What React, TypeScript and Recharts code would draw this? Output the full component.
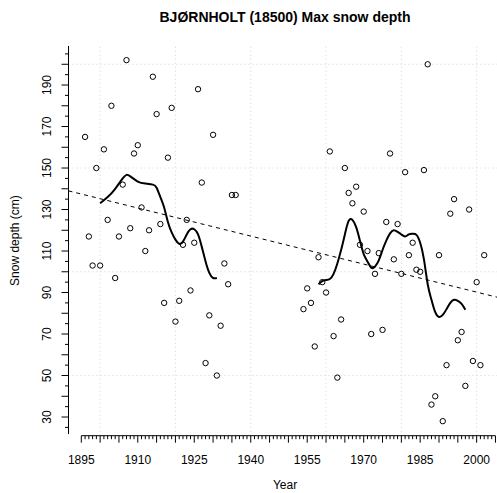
import { ComposedChart, XAxis, YAxis, Scatter, Line, ReferenceLine } from "recharts"

const FONT = '"Liberation Sans", Arial, Helvetica, sans-serif'

// observed yearly max snow depth (cm)
const obsYears = [
  1896, 1897, 1898, 1899, 1900, 1901, 1902, 1903, 1904, 1905, 1906, 1907, 1908, 1909, 1910, 1911,
  1912, 1913, 1914, 1915, 1916, 1917, 1918, 1919, 1920, 1921, 1922, 1923, 1924, 1925, 1926, 1927,
  1928, 1929, 1930, 1931, 1932, 1933, 1934, 1935, 1936,
  1954, 1955, 1956, 1957, 1958, 1959, 1960, 1961, 1962, 1963, 1964, 1965, 1966, 1967, 1968, 1969,
  1970, 1971, 1972, 1973, 1974, 1975, 1976, 1977, 1978, 1979, 1980, 1981, 1982, 1983, 1984, 1985,
  1986, 1987, 1988, 1989, 1990, 1991, 1992, 1993, 1994, 1995, 1996, 1997, 1998, 1999, 2000, 2001,
  2002,
]
const obsDepth = [
  165, 117, 103, 150, 103, 159, 125, 180, 97, 117, 142, 202, 121, 157, 161, 131,
  110, 120, 194, 176, 123, 85, 155, 179, 76, 86, 113, 125, 91, 114, 188, 143,
  56, 79, 166, 50, 74, 104, 94, 137, 137,
  82, 92, 85, 64, 107, 95, 90, 158, 69, 49, 77, 150, 138, 133, 141, 113,
  129, 110, 70, 99, 109, 72, 124, 157, 106, 123, 99, 148, 108, 114, 101, 100,
  149, 200, 36, 40, 108, 28, 55, 128, 135, 67, 71, 45, 130, 57, 95, 55,
  108,
]

// smoothed curve, first period
const smooth1Years = [
  1900, 1902, 1904, 1906, 1907, 1908, 1910, 1912, 1914, 1915, 1916, 1917, 1918,
  1919, 1920, 1921, 1922, 1923, 1924, 1925, 1926, 1927, 1928, 1929, 1930, 1931,
]
const smooth1Depth = [
  133, 136, 140, 145, 146.7, 146, 143.5, 142.5, 142, 140.5, 136, 131, 124,
  119, 115.5, 113.5, 114.5, 118, 120.5, 120.5, 118, 112, 105, 99.5, 97, 97,
]

// smoothed curve, second period
const smooth2Years = [
  1958, 1959, 1960, 1961, 1962, 1963, 1964, 1965, 1966, 1967, 1968, 1969, 1970, 1971,
  1972, 1973, 1974, 1975, 1976, 1977, 1978, 1979, 1980, 1981, 1982, 1983, 1984, 1985,
  1986, 1987, 1988, 1989, 1990, 1991, 1992, 1993, 1994, 1995, 1996, 1997,
]
const smooth2Depth = [
  94, 95.5, 96, 96.5, 99, 104, 110.5, 118, 124.5, 125, 121.5, 115, 108.5, 105,
  102, 102.5, 105.5, 110.5, 115, 118.5, 120, 119.2, 118, 117, 118, 118.3, 117.8, 114,
  106, 94, 86.5, 80.5, 78.2, 79.2, 82, 85, 86.5, 86, 84.5, 81.7,
]

// linear trend, read at the plot edges
const trendYears = [1891.6, 2006.2]
const trendDepth = [139.0, 87.4]

const xLabels = [1895, 1910, 1925, 1940, 1955, 1970, 1985, 2000]
const yLabels = [30, 50, 70, 90, 110, 130, 150, 170, 190]
const xGrid = [1900, 1920, 1940, 1960, 1980, 2000]
const yGrid = [50, 100, 150, 200]

const X_DOMAIN: [number, number] = [1891.6, 2006.2]
const Y_DOMAIN: [number, number] = [21.0, 209.0]

const xTicks: number[] = []
for (let y = 1895; y <= 2005; y++) xTicks.push(y)
const yTicks: number[] = []
for (let v = 25; v <= 205; v += 5) yTicks.push(v)

const toPoints = (xs: number[], ys: number[]) => xs.map((year, i) => ({ year, depth: ys[i] }))

const observed = toPoints(obsYears, obsDepth)
const smooth1 = toPoints(smooth1Years, smooth1Depth)
const smooth2 = toPoints(smooth2Years, smooth2Depth)
const trend = toPoints(trendYears, trendDepth)

const XTick = (props: any) => {
  const { x, y, payload } = props
  const v = payload.value
  const major = v % 5 === 0
  return (
    <g>
      <line x1={x} x2={x} y1={y} y2={y + (major ? 7 : 3.5)} stroke="#000" strokeWidth={1} />
      {xLabels.includes(v) && (
        <text x={x} y={y + 28} textAnchor="middle" fontSize={12} fontFamily={FONT} fill="#000">
          {v}
        </text>
      )}
    </g>
  )
}

const YTick = (props: any) => {
  const { x, y, payload } = props
  const v = payload.value
  const major = v % 10 === 0
  return (
    <g>
      <line x1={x} x2={x - (major ? 7 : 3.5)} y1={y} y2={y} stroke="#000" strokeWidth={1} />
      {yLabels.includes(v) && (
        <text
          x={51}
          y={y}
          transform={`rotate(-90, 51, ${y})`}
          textAnchor="middle"
          fontSize={12}
          fontFamily={FONT}
          fill="#000"
        >
          {v}
        </text>
      )}
    </g>
  )
}

const OpenCircle = (props: any) => (
  <circle cx={props.cx} cy={props.cy} r={2.7} fill="none" stroke="#000" strokeWidth={1} />
)

export default function App() {
  return (
    <div
      style={{
        position: "absolute",
        left: 0,
        top: 0,
        width: 497,
        height: 493,
        overflow: "hidden",
        background: "#fff",
      }}
    >
      <ComposedChart
        width={500}
        height={493}
        margin={{ top: 45.6, right: 0, bottom: 0, left: 0 }}
      >
        <XAxis
          type="number"
          dataKey="year"
          domain={X_DOMAIN}
          allowDataOverflow
          ticks={xTicks}
          interval={0}
          height={57.3}
          tickSize={0}
          tickMargin={0}
          axisLine={false}
          tickLine={false}
          tick={<XTick />}
        />
        <YAxis
          type="number"
          domain={Y_DOMAIN}
          allowDataOverflow
          ticks={yTicks}
          interval={0}
          width={68.5}
          tickSize={0}
          tickMargin={0}
          axisLine={false}
          tickLine={false}
          tick={<YTick />}
        />

        {/* dotted grid like R's grid() */}
        {xGrid.map((g) => (
          <ReferenceLine key={`gx-${g}`} x={g} stroke="#d3d3d3" strokeDasharray="1 3" />
        ))}
        {yGrid.map((g) => (
          <ReferenceLine key={`gy-${g}`} y={g} stroke="#d3d3d3" strokeDasharray="1 3" />
        ))}

        {/* detached axis lines */}
        <ReferenceLine
          segment={[{ x: 1895, y: Y_DOMAIN[0] }, { x: 2005, y: Y_DOMAIN[0] }]}
          stroke="#000"
          ifOverflow="visible"
        />
        <ReferenceLine
          segment={[{ x: X_DOMAIN[0], y: 21.8 }, { x: X_DOMAIN[0], y: 208.8 }]}
          stroke="#000"
          ifOverflow="visible"
        />

        <Line
          data={trend}
          dataKey="depth"
          type="linear"
          stroke="#000"
          strokeWidth={1}
          strokeDasharray="4 4"
          dot={false}
          activeDot={false}
          isAnimationActive={false}
        />
        <Line
          data={smooth1}
          dataKey="depth"
          type="natural"
          stroke="#000"
          strokeWidth={2}
          dot={false}
          activeDot={false}
          isAnimationActive={false}
        />
        <Line
          data={smooth2}
          dataKey="depth"
          type="natural"
          stroke="#000"
          strokeWidth={2}
          dot={false}
          activeDot={false}
          isAnimationActive={false}
        />
        <Scatter data={observed} dataKey="depth" shape={<OpenCircle />} isAnimationActive={false} />
      </ComposedChart>

      <svg
        width={497}
        height={493}
        style={{ position: "absolute", left: 0, top: 0, pointerEvents: "none" }}
      >
        <text x={285} y={22} textAnchor="middle" fontSize={14} fontWeight="bold" fontFamily={FONT} fill="#000">
          BJØRNHOLT (18500) Max snow depth
        </text>
        <text x={285} y={489} textAnchor="middle" fontSize={12} fontFamily={FONT} fill="#000">
          Year
        </text>
        <text
          x={19}
          y={240.6}
          transform="rotate(-90, 19, 240.6)"
          textAnchor="middle"
          fontSize={12}
          fontFamily={FONT}
          fill="#000"
        >
          Snow depth (cm)
        </text>
      </svg>
    </div>
  )
}
